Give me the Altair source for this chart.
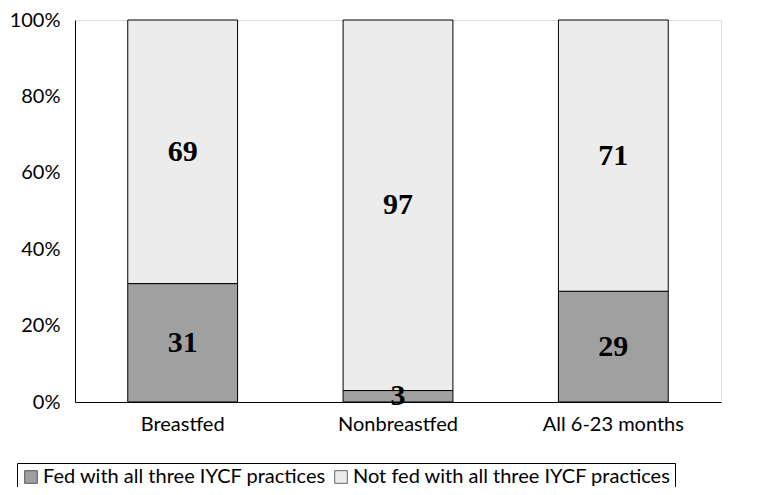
import altair as alt
import pandas as pd

categories = ["Breastfed", "Nonbreastfed", "All 6-23 months"]
fed = [31, 3, 29]
not_fed = [69, 97, 71]
series = ["Fed with all three IYCF practices", "Not fed with all three IYCF practices"]
y_ticks = [0, 20, 40, 60, 80, 100]

rows = []
for c, f, n in zip(categories, fed, not_fed):
    rows.append({"cat": c, "series": series[0], "value": f, "start": 0, "end": f, "mid": f / 2})
    rows.append({"cat": c, "series": series[1], "value": n, "start": f, "end": f + n, "mid": f + n / 2})
df = pd.DataFrame(rows)

FONT = "Lato"

x = alt.X("cat:N", sort=categories, title=None,
          scale=alt.Scale(paddingInner=0.49, paddingOuter=0.245),
          axis=alt.Axis(labelAngle=0, labelFont=FONT, labelFontSize=20, labelColor="#000",
                        ticks=False, domainColor="#000", labelPadding=12))

bars = alt.Chart(df).mark_bar(stroke="#000", strokeWidth=1).encode(
    x=x,
    y=alt.Y("start:Q", title=None,
            scale=alt.Scale(domain=[0, 100], nice=False),
            axis=alt.Axis(values=y_ticks, labelExpr="datum.value + '%'", grid=False, ticks=False,
                          labelFont=FONT, labelFontSize=20, labelColor="#000",
                          domainColor="#000", labelPadding=15)),
    y2="end:Q",
    fill=alt.Fill("series:N", sort=series,
                  scale=alt.Scale(domain=series, range=["#a0a0a0", "#ececec"]),
                  legend=alt.Legend(title=None, orient="none", legendX=-58, legendY=443,
                                    direction="horizontal", symbolType="square", symbolSize=160,
                                    symbolStrokeColor="#000", symbolStrokeWidth=0.6,
                                    labelFont=FONT, labelFontSize=20, labelColor="#000",
                                    labelLimit=500, columnPadding=4, symbolOffset=0,
                                    strokeColor="#000", padding=4, labelOffset=2)),
)

labels = alt.Chart(df).mark_text(font="Liberation Serif", fontWeight="bold", fontSize=30,
                                 color="#000", baseline="middle").encode(
    x=alt.X("cat:N", sort=categories),
    y=alt.Y("mid:Q"),
    text=alt.Text("value:Q"),
)

chart = (bars + labels).properties(
    width=646, height=382,
    autosize=alt.AutoSizeParams(type="none"),
    padding={"left": 67, "top": 12, "right": 35, "bottom": 85},
).configure_view(stroke="#000", strokeWidth=1).configure(background="white")

chart.save("out.html", embed_options={"renderer": "svg", "actions": False})
